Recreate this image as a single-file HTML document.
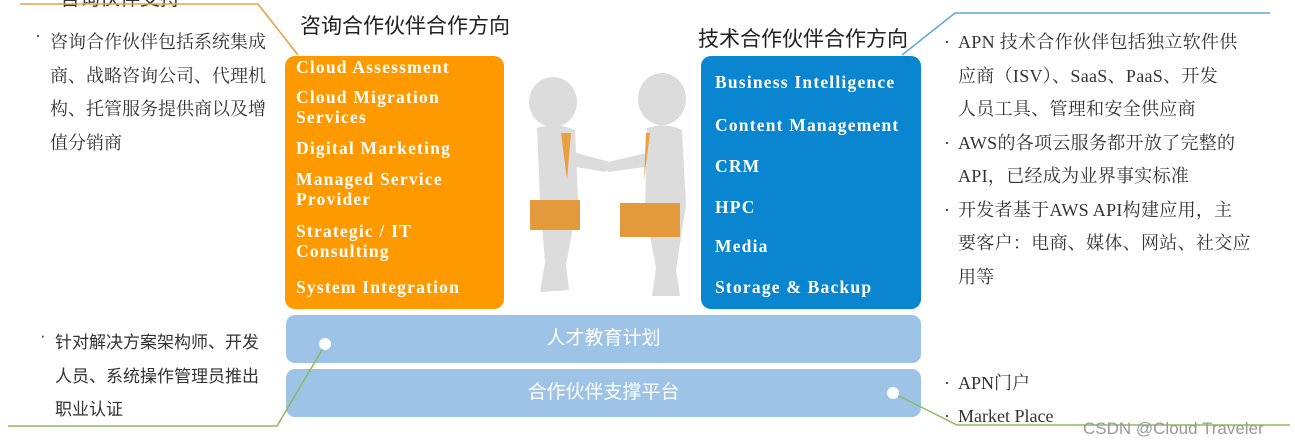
<!DOCTYPE html>
<html><head><meta charset="utf-8"><style>
body{margin:0;width:1295px;height:446px;background:#fff;position:relative;overflow:hidden;font-family:"Liberation Serif","Noto Serif CJK SC",serif;}
.a{position:absolute;white-space:nowrap;}
.cn{font-size:18px;color:#333;line-height:20px;}
.box{position:absolute;border-radius:10px;}
.it{position:absolute;color:#fff;font-weight:bold;font-size:17.5px;letter-spacing:1.2px;line-height:20px;white-space:nowrap;}
.bar{position:absolute;left:286px;width:635px;height:48px;background:#9dc3e6;border-radius:9px;color:#fff;font-family:"Liberation Sans","Noto Sans CJK SC",sans-serif;font-size:19px;text-align:center;line-height:48px;}
.dot{position:absolute;width:12px;height:12px;border-radius:50%;background:#fff;}
</style></head><body>
<svg width="1295" height="446" style="position:absolute;left:0;top:0">
<g fill="#dcdcdc">
<ellipse cx="553" cy="102" rx="24" ry="25"/>
<path d="M537 128 Q556 122 575 130 L578 200 L566 265 L569 290 L540 292 L545 262 L540 200 Z"/>
<path d="M565 150 L610 162 L606 172 L563 165 Z"/>
<ellipse cx="662" cy="99" rx="24" ry="26"/>
<path d="M647 128 Q666 122 682 130 L686 205 L676 270 L680 296 L652 296 L656 268 L645 210 Z"/>
<path d="M650 152 L604 163 L608 172 L652 166 Z"/>
</g>
<rect x="530" y="200" width="50" height="30" fill="#e39a3c"/>
<rect x="620" y="203" width="60" height="34" fill="#e39a3c"/>
<path d="M561 133 L567 180 L571 133Z" fill="#e8a040"/>
<path d="M646 133 L644 180 L650 133Z" fill="#e8a040"/>
</svg>
<div class="a" style="left:60px;top:-18px;font-size:20px;color:#333;font-family:'Liberation Sans','Noto Sans CJK SC',sans-serif">咨询伙伴支持</div>
<div class="a" style="left:300px;top:10px;font-size:21px;color:#222;font-family:'Liberation Sans','Noto Sans CJK SC',sans-serif">咨询合作伙伴合作方向</div>
<div class="a" style="left:698px;top:23px;font-size:21px;color:#222;font-family:'Liberation Sans','Noto Sans CJK SC',sans-serif">技术合作伙伴合作方向</div>

<div class="a cn" style="left:35px;top:26px">·</div>
<div class="a cn" style="left:50px;top:26px;line-height:33.5px">咨询合作伙伴包括系统集成<br>商、战略咨询公司、代理机<br>构、托管服务提供商以及增<br>值分销商</div>

<div class="a cn" style="left:944px;top:26px;line-height:33.5px">·<br><br><br>·<br><br>·</div>
<div class="a cn" style="left:958px;top:26px;line-height:33.5px;letter-spacing:0.3px">APN 技术合作伙伴包括独立软件供<br>应商（ISV）、SaaS、PaaS、开发<br>人员工具、管理和安全供应商<br>AWS的各项云服务都开放了完整的<br>API，已经成为业界事实标准<br>开发者基于AWS API构建应用，主<br>要客户：电商、媒体、网站、社交应<br>用等</div>

<div class="box" style="left:285px;top:56px;width:219px;height:253px;background:#ff9900"></div>
<div class="it" style="left:296px;top:57px">Cloud Assessment</div>
<div class="it" style="left:296px;top:87px">Cloud Migration<br>Services</div>
<div class="it" style="left:296px;top:138px">Digital Marketing</div>
<div class="it" style="left:296px;top:169px">Managed Service<br>Provider</div>
<div class="it" style="left:296px;top:221px">Strategic / IT<br>Consulting</div>
<div class="it" style="left:296px;top:277px">System Integration</div>

<div class="box" style="left:701px;top:56px;width:220px;height:253px;background:#0a85d0"></div>
<div class="it" style="left:715px;top:72px">Business Intelligence</div>
<div class="it" style="left:715px;top:115px">Content Management</div>
<div class="it" style="left:715px;top:156px">CRM</div>
<div class="it" style="left:715px;top:197px">HPC</div>
<div class="it" style="left:715px;top:236px">Media</div>
<div class="it" style="left:715px;top:277px">Storage &amp; Backup</div>

<div class="bar" style="top:315px">人才教育计划</div>
<div class="bar" style="top:369px">合作伙伴支撑平台</div>

<svg width="1295" height="446" style="position:absolute;left:0;top:0">
<polyline points="20,4 258,4 298,55" fill="none" stroke="#e8a040" stroke-width="1.5"/>
<polyline points="1270,13 955,13 902,55" fill="none" stroke="#5aa9e0" stroke-width="1.5"/>
<polyline points="325,345 277,426 8,426" fill="none" stroke="#8dbb5a" stroke-width="1.5"/>
<polyline points="893,393 957,425 1290,425" fill="none" stroke="#8dbb5a" stroke-width="1.5"/>
</svg>
<div class="dot" style="left:319px;top:338px"></div>
<div class="dot" style="left:887px;top:387px"></div>

<div class="a cn" style="left:40px;top:326px;font-size:17px;font-family:'Liberation Sans','Noto Sans CJK SC',sans-serif">·</div>
<div class="a cn" style="left:55px;top:326px;font-size:17px;line-height:33.5px;font-family:'Liberation Sans','Noto Sans CJK SC',sans-serif">针对解决方案架构师、开发<br>人员、系统操作管理员推出<br>职业认证</div>
<div class="a cn" style="left:944px;top:367px;line-height:33px">·<br>·</div>
<div class="a cn" style="left:958px;top:367px;line-height:33px">APN门户<br>Market Place</div>
<div class="a" style="left:1083px;top:419px;font-size:17px;color:#999;font-family:'Liberation Sans',sans-serif">CSDN @Cloud Traveler</div>
</body></html>
